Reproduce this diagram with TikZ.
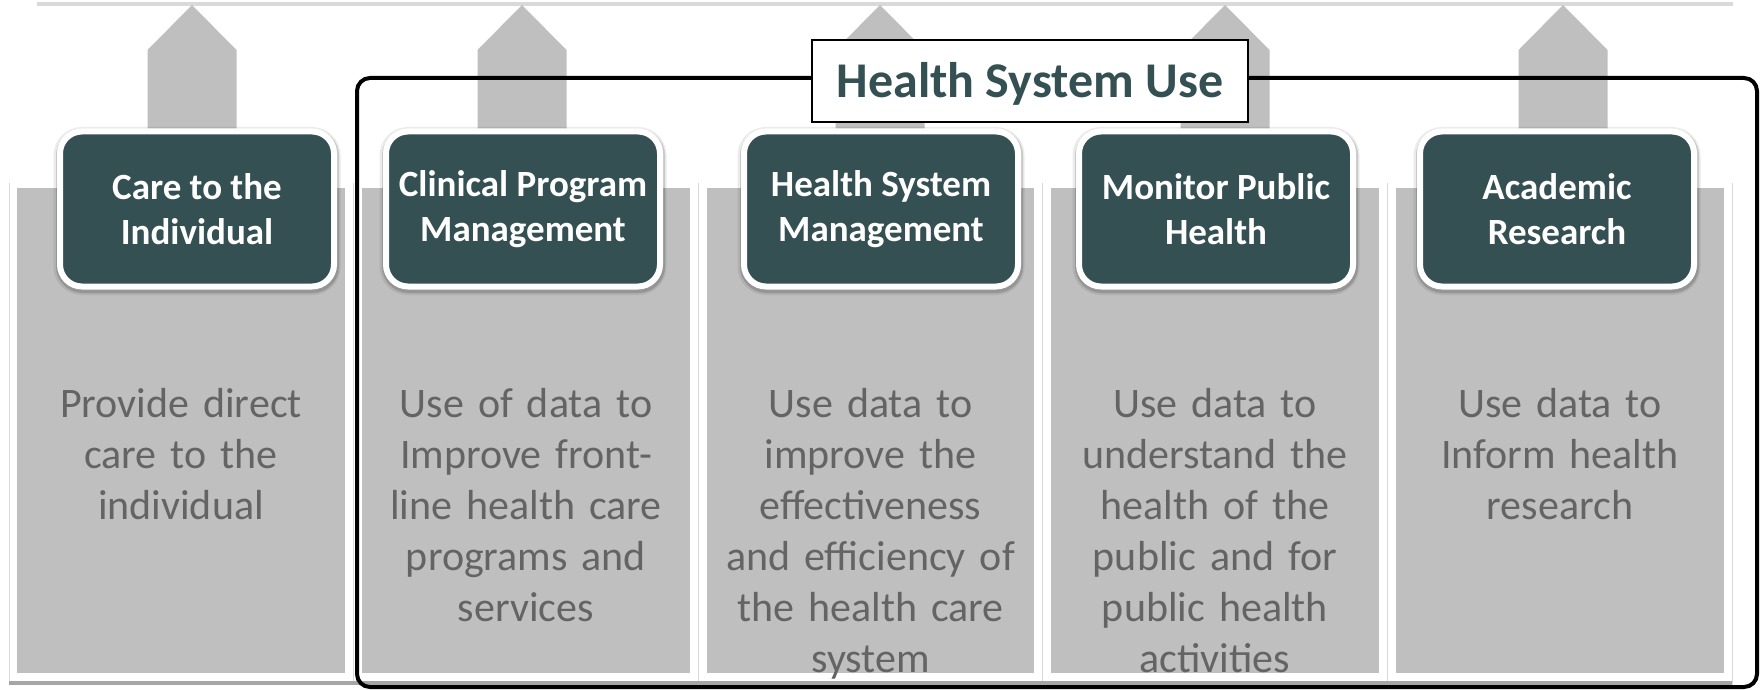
\documentclass[tikz,border=0pt]{standalone}
\usepackage{fontspec}
\setmainfont{Carlito}
\usetikzlibrary{positioning, shapes, shadows, calc}

\definecolor{hsteal}{HTML}{355052}
\definecolor{colgrey}{HTML}{BFBFBF}
\definecolor{bodygrey}{HTML}{646464}
\definecolor{rulegrey}{HTML}{D9D9D9}
\definecolor{bandgrey}{HTML}{A6A6A6}

\begin{document}
\begin{tikzpicture}[x=1pt, y=-1pt,
  usebox/.style={draw=white, line width=6pt, fill=hsteal, rounded corners=22pt,
    minimum width=274pt, minimum height=155pt, text=white, align=center,
    font=\bfseries\fontsize{37}{45}\selectfont,
    preaction={draw=black, draw opacity=0.08, line width=13pt,
      transform canvas={yshift=-2pt}},
    preaction={draw=black, draw opacity=0.15, line width=9pt,
      transform canvas={xshift=0.5pt, yshift=-2pt}}},
  usetext/.style={anchor=base, text width=330pt, align=center, inner sep=0pt,
    text=bodygrey, font=\fontsize{42}{51}\selectfont},
  column/.style={fill=colgrey},
  uparrow/.style={fill=colgrey}]
  \useasboundingbox (0,0) rectangle (1761,690);
  \fill[white, drop shadow={opacity=0.3, shadow xshift=0pt, shadow yshift=-4pt}] (37,-40) rectangle (1733,2);

  \draw[rulegrey, line width=1pt] (9,183) -- (9,685);
  \draw[rulegrey, line width=1pt] (353.5,183) -- (353.5,685);
  \draw[rulegrey, line width=1pt] (698,183) -- (698,685);
  \draw[rulegrey, line width=1pt] (1042.5,183) -- (1042.5,685);
  \draw[rulegrey, line width=1pt] (1387,183) -- (1387,685);
  \draw[rulegrey, line width=1pt] (1732,183) -- (1732,685);
  \fill[bandgrey] (9,681) rectangle (1732,685);

  \fill[column] (17,188) rectangle (345,673);
  \fill[column] (362,188) rectangle (690,673);
  \fill[column] (707,188) rectangle (1034,673);
  \fill[column] (1051,188) rectangle (1379,673);
  \fill[column] (1396,188) rectangle (1724,673);

  \fill[uparrow] (147.5,150) -- (147.5,50) -- (192,5) -- (236.5,50) -- (236.5,150) -- cycle;
  \fill[uparrow] (477.5,150) -- (477.5,50) -- (522,5) -- (566.5,50) -- (566.5,150) -- cycle;
  \fill[uparrow] (835.5,150) -- (835.5,50) -- (880,5) -- (924.5,50) -- (924.5,150) -- cycle;
  \fill[uparrow] (1180.5,150) -- (1180.5,50) -- (1225,5) -- (1269.5,50) -- (1269.5,150) -- cycle;
  \fill[uparrow] (1518.5,150) -- (1518.5,50) -- (1563,5) -- (1607.5,50) -- (1607.5,150) -- cycle;

  \draw[line width=4pt, rounded corners=13pt] (357,78) rectangle (1757,687);
  \node[draw, fill=white, line width=2pt, minimum width=436pt, minimum height=82pt,
    inner ysep=0pt, text height=44pt, text depth=10pt,
    text=hsteal, font=\bfseries\fontsize{50}{60}\selectfont] (hsuse) at (1030,81) {Health System Use};

  \node[usebox] (care) at (197,209) {Care to the\\Individual};
  \node[usebox] (clinical) at (523,209) {Clinical Program\\Management};
  \node[usebox] (sysmgmt) at (881,209) {Health System\\Management};
  \node[usebox] (monitor) at (1216,209) {Monitor Public\\Health};
  \node[usebox] (research) at (1557,209) {Academic\\Research};

  \node[usetext] (caretext) at (181,417) {Provide direct\\care to the\\individual};
  \node[usetext] (clinicaltext) at (526,417) {Use of data to\\Improve front-\\line health care\\programs and\\services};
  \node[usetext] (sysmgmttext) at (870.5,417) {Use data to\\improve the\\effectiveness\\and efficiency of\\the health care\\system};
  \node[usetext] (monitortext) at (1215,417) {Use data to\\understand the\\health of the\\public and for\\public health\\activities};
  \node[usetext] (researchtext) at (1560,417) {Use data to\\Inform health\\research};
\end{tikzpicture}
\end{document}
